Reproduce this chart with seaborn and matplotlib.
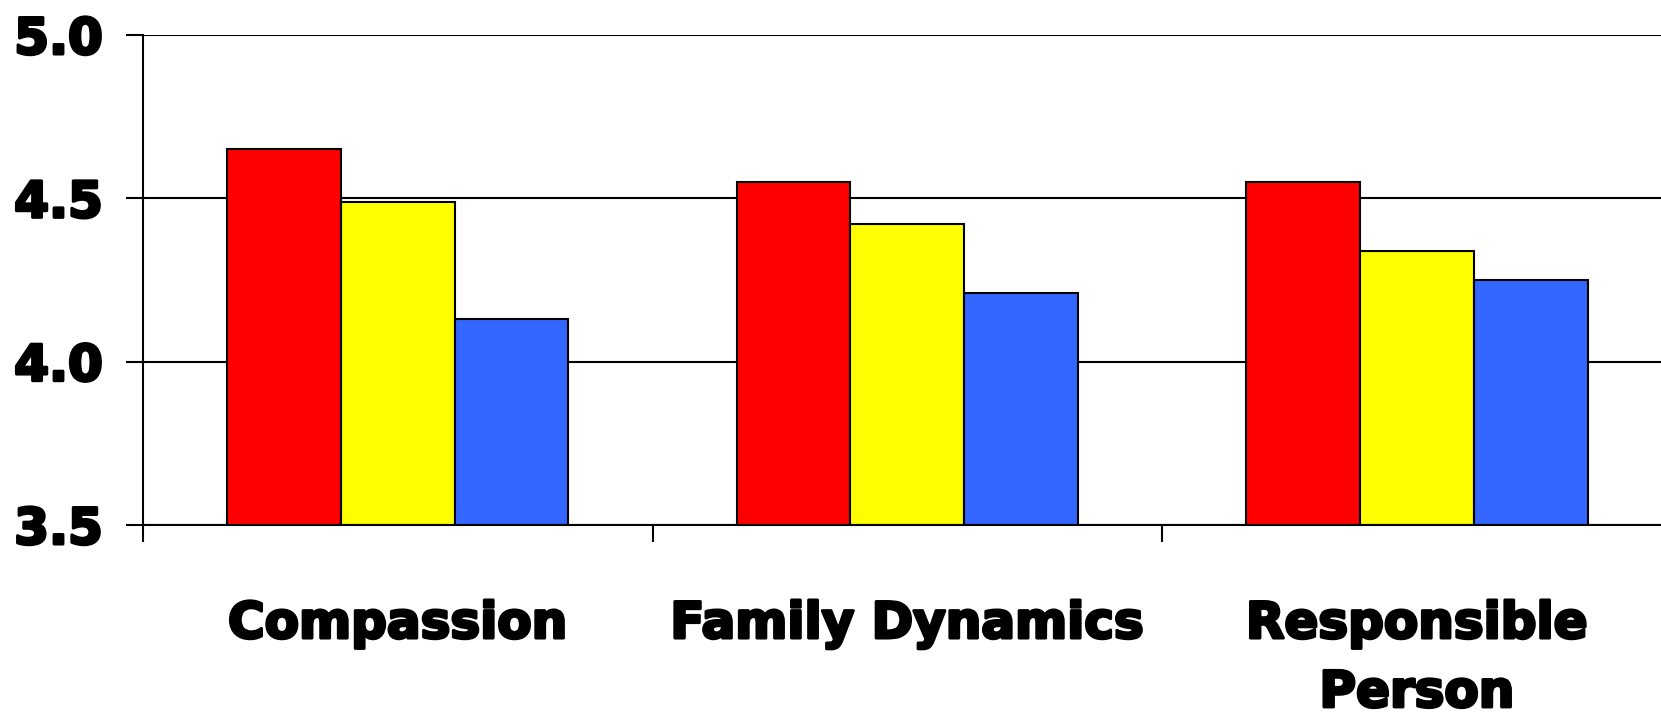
import matplotlib
matplotlib.use("Agg")
import matplotlib.pyplot as plt
import matplotlib.patheffects as pe
import seaborn as sns
import pandas as pd

categories = ["Compassion", "Family Dynamics", "Responsible\nPerson"]
series_names = ["Series 1", "Series 2", "Series 3"]
series_1 = [4.65, 4.55, 4.55]
series_2 = [4.49, 4.42, 4.34]
series_3 = [4.13, 4.21, 4.25]
colors = ["#FF0000", "#FFFF00", "#3366FF"]
y_ticks = [3.5, 4.0, 4.5, 5.0]
y_tick_labels = ["3.5", "4.0", "4.5", "5.0"]

rows = []
for name, vals in zip(series_names, [series_1, series_2, series_3]):
    for cat, v in zip(categories, vals):
        rows.append({"category": cat, "series": name, "value": v})
df = pd.DataFrame(rows)

sns.set_theme(style="white")
plt.rcParams["font.family"] = ["DejaVu Sans"]
plt.rcParams["text.color"] = "black"
plt.rcParams["xtick.color"] = "black"
plt.rcParams["ytick.color"] = "black"

fig = plt.figure(figsize=(16.61, 7.18), dpi=100)
ax = fig.add_axes([143 / 1661, 1 - 525 / 718, (1661 - 143) / 1661, (525 - 35) / 718])

sns.barplot(data=df, x="category", y="value", hue="series", order=categories,
            hue_order=series_names, palette=colors, width=0.67, ax=ax,
            edgecolor="black", linewidth=1.5, legend=False, saturation=1)

# bars start from the bottom of the visible range
for patch in ax.patches:
    h = patch.get_height()
    patch.set_y(3.5)
    patch.set_height(h - 3.5)

ax.set_ylim(3.5, 5.0)
ax.set_xlim(-0.5, 2.479)
ax.set_yticks(y_ticks)
ax.set_yticklabels(y_tick_labels, fontsize=36, fontweight="bold", color="black")
ax.yaxis.grid(True, color="black", linewidth=1.5)
ax.set_axisbelow(True)

# major x ticks sit between groups; labels go on minor ticks at group centers
ax.set_xticks([-0.5, 0.5, 1.5])
ax.set_xticklabels([])
ax.set_xticks([0, 1, 2], minor=True)
ax.set_xticklabels(categories, minor=True, fontsize=36, fontweight="bold",
                   color="black", linespacing=1.55)
ax.tick_params(axis="x", which="major", direction="out", length=12, width=1.5,
               color="black", bottom=True)
ax.tick_params(axis="x", which="minor", length=0, pad=54, bottom=True)
ax.tick_params(axis="y", direction="out", length=12, width=1.5, color="black",
               pad=17, left=True)

# heavier strokes on all tick labels
heavy = [pe.withStroke(linewidth=2.2, foreground="black")]
for lbl in ax.get_yticklabels() + ax.get_xticklabels(minor=True):
    lbl.set_path_effects(heavy)

ax.set_xlabel("")
ax.set_ylabel("")
for side in ["top", "right"]:
    ax.spines[side].set_visible(False)
for side in ["left", "bottom"]:
    ax.spines[side].set_color("black")
    ax.spines[side].set_linewidth(1.5)
ax.spines["left"].set_bounds(3.5, 5.0)

fig.savefig("out.png", dpi=100, facecolor="white")
